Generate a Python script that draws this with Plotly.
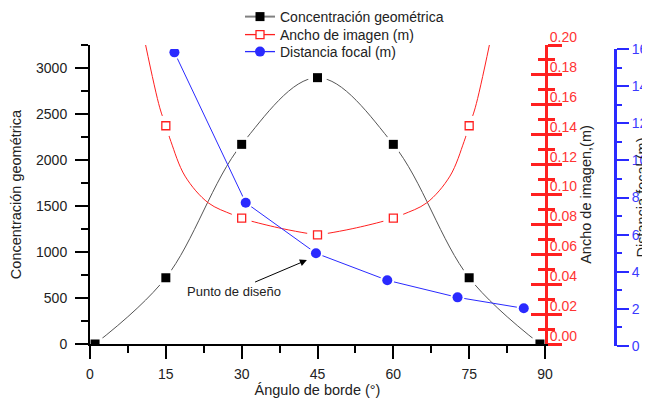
import plotly.graph_objects as go

# ---------------- data ----------------
angulo = [1, 15, 30, 45, 60, 75, 89]
concentracion = [0, 720, 2170, 2895, 2170, 720, 0]

ancho_x = [15, 30, 45, 60, 75]
ancho = [0.146, 0.0842, 0.0730, 0.0842, 0.146]
ancho_curva_x = [11, 13.8, 15, 16, 18.8, 23.4, 28, 30, 32, 38, 43, 45,
                 47, 52, 58, 60, 62, 66.6, 71.2, 74, 75, 76.2, 79]
ancho_curva = [0.200, 0.158, 0.146, 0.1355, 0.1123, 0.0944, 0.0868, 0.0842, 0.0821, 0.0772, 0.0740, 0.0730,
               0.0740, 0.0772, 0.0821, 0.0842, 0.0868, 0.0944, 0.1123, 0.1355, 0.146, 0.158, 0.200]

focal_x = [16.7, 30.8, 44.7, 58.8, 72.7, 85.8]
focal = [15.82, 7.72, 5.0, 3.54, 2.62, 2.03]

nombres = ["Concentración geométrica", "Ancho de imagen (m)", "Distancia focal (m)"]
x_ticks = [0, 15, 30, 45, 60, 75, 90]

FONT = "Liberation Sans, Arial, sans-serif"
BLACK_LINE = "#555555"
RED = "#ff2020"
BLUE = "#2a2aff"
TXT = "#222222"

# geometry: the page body has an 8px margin, so the figure is 8px smaller
OFF = 8
W, H = 650 - OFF, 399 - OFF
ML, MR, MT, MB = 90 - OFF, 35, 0, 53
PW = W - ML - MR
PH = H - MT - MB
def py(s):                # screen pixel row -> paper y
    return (H - MB - (s - OFF)) / PH
def px(s):                # screen pixel column -> paper x
    return (s - OFF - ML) / PW

fig = go.Figure()

# lines
fig.add_trace(go.Scatter(x=angulo, y=concentracion, mode="lines", yaxis="y",
                         line=dict(color=BLACK_LINE, width=1, shape="spline"),
                         showlegend=False, hoverinfo="skip"))
fig.add_trace(go.Scatter(x=ancho_curva_x, y=ancho_curva, mode="lines", yaxis="y2",
                         line=dict(color=RED, width=1, shape="spline"),
                         showlegend=False, hoverinfo="skip"))
fig.add_trace(go.Scatter(x=focal_x, y=focal, mode="lines", yaxis="y3",
                         line=dict(color=BLUE, width=1),
                         showlegend=False, hoverinfo="skip"))

# white masks to create gaps around markers
fig.add_trace(go.Scatter(x=angulo, y=concentracion, mode="markers", yaxis="y",
                         marker=dict(symbol="circle", size=19, color="white"),
                         showlegend=False, hoverinfo="skip"))
fig.add_trace(go.Scatter(x=ancho_x, y=ancho, mode="markers", yaxis="y2",
                         marker=dict(symbol="circle", size=21, color="white"),
                         showlegend=False, hoverinfo="skip"))
fig.add_trace(go.Scatter(x=focal_x, y=focal, mode="markers", yaxis="y3",
                         marker=dict(symbol="circle", size=14, color="white"),
                         showlegend=False, hoverinfo="skip"))

# markers
fig.add_trace(go.Scatter(x=angulo, y=concentracion, mode="markers", yaxis="y",
                         marker=dict(symbol="square", size=9, color="black"),
                         showlegend=False))
fig.add_trace(go.Scatter(x=ancho_x, y=ancho, mode="markers", yaxis="y2",
                         marker=dict(symbol="square", size=8, color="white",
                                     line=dict(color=RED, width=1.3)),
                         showlegend=False))
fig.add_trace(go.Scatter(x=focal_x, y=focal, mode="markers", yaxis="y3",
                         marker=dict(symbol="circle", size=10, color=BLUE),
                         showlegend=False))

# legend entries (one legend each, to reproduce the tight spacing)
fig.add_trace(go.Scatter(x=[None], y=[None], mode="lines+markers", name=nombres[0], legend="legend",
                         line=dict(color="#808080", width=2),
                         marker=dict(symbol="square", size=9, color="black")))
fig.add_trace(go.Scatter(x=[None], y=[None], mode="lines+markers", name=nombres[1], legend="legend2",
                         line=dict(color=RED, width=1.3),
                         marker=dict(symbol="square", size=8, color="white",
                                     line=dict(color=RED, width=1.3))))
fig.add_trace(go.Scatter(x=[None], y=[None], mode="lines+markers", name=nombres[2], legend="legend3",
                         line=dict(color=BLUE, width=1.3),
                         marker=dict(symbol="circle", size=10, color=BLUE)))

# helper axis for red cross ticks
fig.add_trace(go.Scatter(x=[None], y=[None], yaxis="y4", showlegend=False))

def leg(top_s):
    return dict(x=px(240), y=py(top_s), xanchor="left", yanchor="top",
                bgcolor="rgba(0,0,0,0)", borderwidth=0,
                font=dict(family=FONT, size=14, color=TXT), itemwidth=30)

fig.update_layout(
    template="none",
    width=W, height=H,
    margin=dict(l=ML, r=MR, t=MT, b=MB, pad=0, autoexpand=False),
    paper_bgcolor="white", plot_bgcolor="rgba(0,0,0,0)",
    font=dict(family=FONT, size=14, color=TXT),
    showlegend=True,
    legend=leg(1), legend2=leg(19), legend3=leg(36),
    xaxis=dict(domain=[0, 455 / PW], range=[0, 90], anchor="y",
               tickmode="array", tickvals=x_ticks, ticktext=[str(v) for v in x_ticks],
               ticks="outside", ticklen=13, tickwidth=2, tickcolor="black",
               minor=dict(dtick=7.5, tick0=0, ticks="outside", ticklen=7, tickwidth=2, tickcolor="black"),
               showline=True, linecolor="black", linewidth=2,
               showgrid=False, zeroline=False, automargin=False,
               tickfont=dict(size=14, color=TXT), ticklabelstandoff=3,
               title=dict(text="Ángulo de borde (°)", font=dict(size=14.5, color=TXT), standoff=1)),
    yaxis=dict(domain=[py(344), py(45)], range=[0, 3250], anchor="x",
               dtick=500, tick0=0,
               ticks="outside", ticklen=13, tickwidth=2, tickcolor="black",
               minor=dict(dtick=250, tick0=0, ticks="outside", ticklen=7, tickwidth=2, tickcolor="black"),
               showline=True, linecolor="black", linewidth=2,
               showgrid=False, zeroline=False, automargin=False,
               tickfont=dict(size=14, color=TXT), ticklabelstandoff=5,
               title=dict(text="Concentración geométrica", font=dict(size=14.5, color=TXT), standoff=13)),
    yaxis2=dict(overlaying="y", side="right", anchor="x", range=[0, 0.2],
                dtick=0.02, tick0=0, tickformat=".2f",
                ticks="outside", ticklen=14, tickwidth=3, tickcolor=RED,
                minor=dict(dtick=0.01, tick0=0, ticks="outside", ticklen=7, tickwidth=3, tickcolor=RED),
                showline=True, linecolor=RED, linewidth=3,
                showgrid=False, zeroline=False, automargin=False,
                tickfont=dict(size=14, color="#ff3333"),
                ticklabelstandoff=-15, ticklabelshift=-8,
                title=dict(text="Ancho de imagen,(m)", font=dict(size=14.5, color=TXT), standoff=5)),
    yaxis4=dict(overlaying="y", side="right", anchor="x", range=[0, 0.2],
                dtick=0.02, tick0=0, showticklabels=False,
                ticks="inside", ticklen=14, tickwidth=3, tickcolor=RED,
                minor=dict(dtick=0.01, tick0=0, ticks="inside", ticklen=7, tickwidth=3, tickcolor=RED),
                showline=False, showgrid=False, zeroline=False, automargin=False),
    yaxis3=dict(domain=[0, py(49)], side="right", anchor="free", position=1,
                range=[0, 16], dtick=2, tick0=0,
                ticks="outside", ticklen=12, tickwidth=2, tickcolor=BLUE,
                minor=dict(dtick=1, tick0=0, ticks="outside", ticklen=5, tickwidth=2, tickcolor=BLUE),
                showline=True, linecolor=BLUE, linewidth=3,
                showgrid=False, zeroline=False, automargin=False,
                tickfont=dict(size=14, color="#3a3aff"),
                title=dict(text="Distancia focal (m)", font=dict(size=14.5, color=TXT), standoff=11)),
    annotations=[dict(x=42.9, y=4.63, xref="x", yref="y3", text="Punto de diseño",
                      showarrow=True, arrowhead=2, arrowsize=1.4, arrowwidth=1, arrowcolor="black",
                      ax=-73, ay=31, font=dict(family=FONT, size=13, color=TXT))],
)

fig.write_html("out.html")
